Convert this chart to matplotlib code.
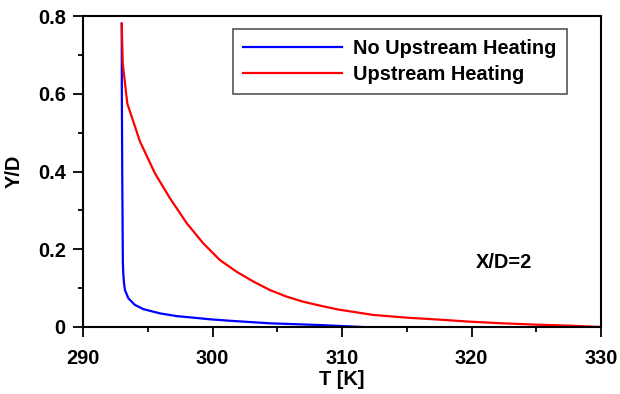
import matplotlib
matplotlib.use("Agg")
import matplotlib.pyplot as plt
from matplotlib.ticker import MultipleLocator

plt.rcParams['font.family'] = ['Liberation Sans', 'DejaVu Sans']
plt.rcParams['font.weight'] = 'bold'

# No Upstream Heating
t_no = [292.99, 293.0, 293.03, 293.06, 293.08, 293.11, 293.17, 293.24, 293.5, 294.0, 294.66,
        295.95, 297.24, 298.52, 299.81, 301.35, 304.44, 308.3, 311.6]
y_no = [0.78, 0.60, 0.40, 0.25, 0.164, 0.138, 0.112, 0.095, 0.074, 0.057, 0.046,
        0.035, 0.028, 0.024, 0.0198, 0.016, 0.0095, 0.005, 0.0]

# Upstream Heating
t_up = [292.99, 293.07, 293.42, 294.40, 295.56, 296.72, 298.01, 299.29, 300.58, 301.87,
        303.15, 304.44, 305.73, 307.01, 308.3, 309.7, 312.42, 315.0, 317.5, 319.88, 322.46,
        325.03, 327.6, 330.0]
y_up = [0.781, 0.678, 0.575, 0.477, 0.395, 0.331, 0.267, 0.215, 0.172, 0.142,
        0.117, 0.095, 0.078, 0.065, 0.055, 0.045, 0.031, 0.024, 0.019, 0.0137, 0.0094,
        0.006, 0.0034, 0.0]

x_ticks = [290, 300, 310, 320, 330]
y_ticks = [0, 0.2, 0.4, 0.6, 0.8]
y_ticklabels = ['0', '0.2', '0.4', '0.6', '0.8']

fig = plt.figure(figsize=(6.2, 3.94), dpi=100)
ax = fig.add_axes([83/620, 1-327/394, (601-83)/620, (327-16)/394])

ax.plot(t_no, y_no, color='#0000ff', lw=1.6, label='No Upstream Heating')
ax.plot(t_up, y_up, color='#ff0000', lw=1.6, label='Upstream Heating')

ax.set_xlim(290, 330)
ax.set_ylim(0, 0.8)
ax.set_xticks(x_ticks)
ax.set_xticklabels([str(v) for v in x_ticks])
ax.set_yticks(y_ticks)
ax.set_yticklabels(y_ticklabels)
ax.xaxis.set_minor_locator(MultipleLocator(5))
ax.yaxis.set_minor_locator(MultipleLocator(0.1))
ax.tick_params(which='major', direction='out', length=7.5, width=1.3, labelsize=14.4, pad=5)
ax.tick_params(axis='x', which='major', pad=8)
ax.tick_params(which='minor', direction='out', length=3.8, width=1.3)
for s in ax.spines.values():
    s.set_linewidth(1.5)

ax.set_xlabel('T [K]', fontsize=14.4, fontweight='bold', labelpad=2)
ax.set_ylabel('Y/D', fontsize=14.4, fontweight='bold', labelpad=10)

ax.text(0.758, 0.206, 'X/D=2', transform=ax.transAxes, fontsize=14.4, fontweight='bold',
        va='center', ha='left')

leg = ax.legend(loc='upper right', bbox_to_anchor=(0.934, 0.958), fontsize=14.4,
                frameon=True, fancybox=False, edgecolor='#555555', framealpha=1,
                handlelength=4.95, handletextpad=0.55, borderpad=0.5, labelspacing=0.35,
                borderaxespad=0)
leg.get_frame().set_linewidth(1.2)

fig.savefig('out.png', dpi=100)
